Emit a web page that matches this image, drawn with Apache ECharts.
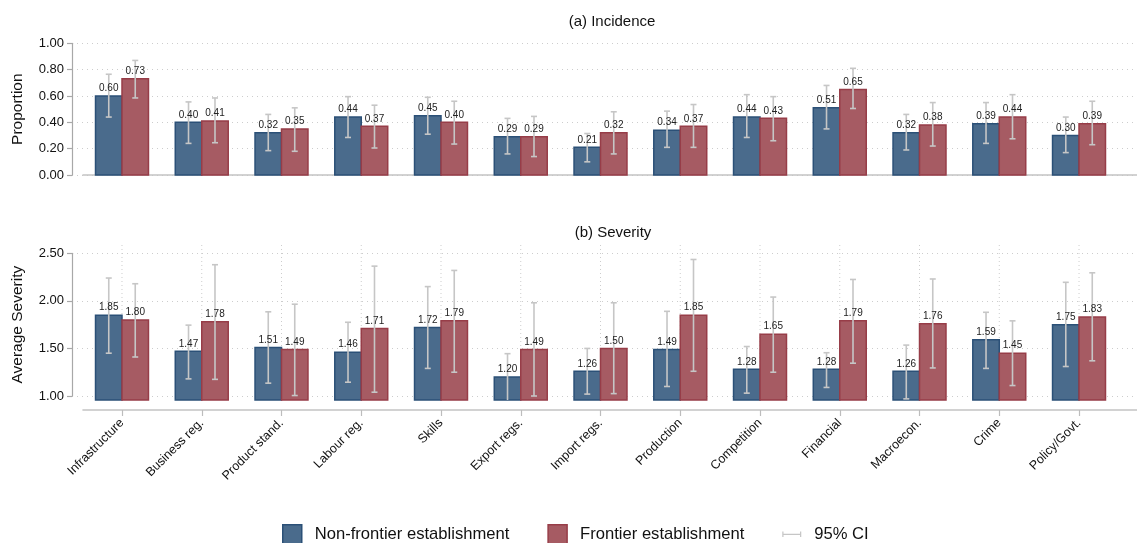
<!DOCTYPE html>
<html>
<head>
<meta charset="utf-8">
<title>Obstacles to operations: incidence and severity</title>
<script src="https://cdn.jsdelivr.net/npm/echarts@6/dist/echarts.min.js"></script>
<style>
  html, body { margin: 0; padding: 0; background: #ffffff; }
  #chart { width: 1137px; height: 543px; }
</style>
</head>
<body>
<div id="chart"></div>
<script>
// Obstacle categories (shared by both panels)
const categories = ['Infrastructure', 'Business reg.', 'Product stand.', 'Labour reg.', 'Skills',
  'Export regs.', 'Import regs.', 'Production', 'Competition', 'Financial', 'Macroecon.', 'Crime', 'Policy/Govt.'];

// (a) Incidence: share of establishments reporting the obstacle
const incidenceNonFrontier = [0.60, 0.40, 0.32, 0.44, 0.45, 0.29, 0.21, 0.34, 0.44, 0.51, 0.32, 0.39, 0.30];
const incidenceFrontier    = [0.73, 0.41, 0.35, 0.37, 0.40, 0.29, 0.32, 0.37, 0.43, 0.65, 0.38, 0.44, 0.39];
const incidenceNonFrontierLo = [0.44, 0.24, 0.185, 0.285, 0.31, 0.16, 0.10, 0.21, 0.285, 0.35, 0.19, 0.24, 0.17];
const incidenceNonFrontierHi = [0.765, 0.555, 0.46, 0.595, 0.59, 0.43, 0.315, 0.485, 0.61, 0.68, 0.46, 0.55, 0.44];
const incidenceFrontierLo    = [0.585, 0.245, 0.18, 0.205, 0.235, 0.14, 0.16, 0.21, 0.26, 0.505, 0.22, 0.275, 0.23];
const incidenceFrontierHi    = [0.87, 0.585, 0.51, 0.53, 0.56, 0.445, 0.48, 0.535, 0.595, 0.81, 0.55, 0.61, 0.56];

// (b) Severity: average severity score among those reporting
const severityNonFrontier = [1.85, 1.47, 1.51, 1.46, 1.72, 1.20, 1.26, 1.49, 1.28, 1.28, 1.26, 1.59, 1.75];
const severityFrontier    = [1.80, 1.78, 1.49, 1.71, 1.79, 1.49, 1.50, 1.85, 1.65, 1.79, 1.76, 1.45, 1.83];
const severityNonFrontierLo = [1.45, 1.18, 1.135, 1.145, 1.29, 0.95, 1.02, 1.10, 1.03, 1.09, 0.97, 1.29, 1.31];
const severityNonFrontierHi = [2.24, 1.745, 1.885, 1.775, 2.15, 1.445, 1.50, 1.89, 1.52, 1.455, 1.535, 1.88, 2.195];
const severityFrontierLo    = [1.41, 1.175, 1.005, 1.04, 1.25, 1.00, 1.025, 1.26, 1.25, 1.345, 1.295, 1.11, 1.37];
const severityFrontierHi    = [2.18, 2.38, 1.965, 2.365, 2.32, 1.98, 1.98, 2.435, 2.04, 2.225, 2.23, 1.79, 2.295];

// Axis tick labels
const incidenceTicks = [0, 0.2, 0.4, 0.6, 0.8, 1.0];
const severityTicks  = [1.0, 1.5, 2.0, 2.5];

const SERIES_NAMES = ['Non-frontier establishment', 'Frontier establishment', '95% CI'];

// ---- styling ----
const FONT = 'Liberation Sans, Arial, Helvetica, sans-serif';
const BLUE_FILL = '#4a6b8c', BLUE_LINE = '#2b5077';
const RED_FILL = '#a65b63', RED_LINE = '#973d48';
const CI_COLOR = '#c6c6c6';
const AXIS_GREY = '#a8a8a8';
const GRID_GREY = '#cdcdcd';
const BAR_FRACTION = 0.332;   // bar width as a share of the category spacing
const CAP_HALF = 3;

const chart = echarts.init(document.getElementById('chart'), null, { renderer: 'canvas' });

function clampY(y, rect) {
  return Math.min(Math.max(y, rect.y), rect.y + rect.height);
}

function barRenderer(side, fill, stroke) {
  return function (params, api) {
    const rect = params.coordSys;
    const i = api.value(0);
    const top = api.coord([i, api.value(1)]);
    const w = api.size([1, 0])[0] * BAR_FRACTION;
    const bottom = rect.y + rect.height;
    const x = side < 0 ? top[0] - w : top[0];
    return {
      type: 'rect',
      shape: { x: x, y: top[1], width: w, height: bottom - top[1] },
      style: { fill: fill, stroke: stroke, lineWidth: 1.5 }
    };
  };
}

function ciRenderer(params, api) {
  const rect = params.coordSys;
  const i = api.value(0);
  const w = api.size([1, 0])[0] * BAR_FRACTION;
  const children = [];
  [[-1, 1, 2], [1, 3, 4]].forEach(function (spec) {
    const lo = api.coord([i, api.value(spec[1])]);
    const hi = api.coord([i, api.value(spec[2])]);
    const cx = lo[0] + spec[0] * w / 2;
    const yLo = clampY(lo[1], rect), yHi = clampY(hi[1], rect);
    const style = { stroke: CI_COLOR, lineWidth: 1.6 };
    children.push({ type: 'line', shape: { x1: cx, y1: yLo, x2: cx, y2: yHi }, style: style });
    children.push({ type: 'line', shape: { x1: cx - CAP_HALF, y1: yHi, x2: cx + CAP_HALF, y2: yHi }, style: style });
    if (yLo === lo[1]) {
      children.push({ type: 'line', shape: { x1: cx - CAP_HALF, y1: yLo, x2: cx + CAP_HALF, y2: yLo }, style: style });
    }
  });
  return { type: 'group', children: children };
}

function labelRenderer(params, api) {
  const i = api.value(0);
  const w = api.size([1, 0])[0] * BAR_FRACTION;
  const children = [];
  [[-1, 1], [1, 2]].forEach(function (spec) {
    const v = api.value(spec[1]);
    const p = api.coord([i, v]);
    children.push({
      type: 'text',
      x: p[0] + spec[0] * w / 2,
      y: p[1] - 2.5,
      style: {
        text: v.toFixed(2), fill: '#222222', font: '10px ' + FONT,
        align: 'center', verticalAlign: 'bottom'
      }
    });
  });
  return { type: 'group', children: children };
}

function vGridRenderer(params, api) {
  const rect = params.coordSys;
  const x = api.coord([api.value(0), 0])[0];
  return {
    type: 'line',
    shape: { x1: x, y1: rect.y, x2: x, y2: rect.y + rect.height },
    style: { stroke: GRID_GREY, lineWidth: 1, lineDash: [1, 3] }
  };
}

function panelSeries(axisIndex, nf, fr, nfLo, nfHi, frLo, frHi, withVGrid) {
  const idx = categories.map(function (_, i) { return i; });
  const list = [];
  if (withVGrid) {
    list.push({
      type: 'custom', xAxisIndex: axisIndex, yAxisIndex: axisIndex, silent: true, z: 1,
      renderItem: vGridRenderer,
      data: idx.map(function (i) { return [i]; })
    });
  }
  list.push({
    name: SERIES_NAMES[0], type: 'custom', xAxisIndex: axisIndex, yAxisIndex: axisIndex, z: 2,
    itemStyle: { color: BLUE_FILL, borderColor: BLUE_LINE, borderWidth: 1.5 },
    renderItem: barRenderer(-1, BLUE_FILL, BLUE_LINE),
    data: idx.map(function (i) { return [i, nf[i]]; })
  });
  list.push({
    name: SERIES_NAMES[1], type: 'custom', xAxisIndex: axisIndex, yAxisIndex: axisIndex, z: 2,
    itemStyle: { color: RED_FILL, borderColor: RED_LINE, borderWidth: 1.5 },
    renderItem: barRenderer(1, RED_FILL, RED_LINE),
    data: idx.map(function (i) { return [i, fr[i]]; })
  });
  list.push({
    name: SERIES_NAMES[2], type: 'custom', xAxisIndex: axisIndex, yAxisIndex: axisIndex, z: 3,
    itemStyle: { color: CI_COLOR },
    renderItem: ciRenderer,
    data: idx.map(function (i) { return [i, nfLo[i], nfHi[i], frLo[i], frHi[i]]; })
  });
  list.push({
    type: 'custom', xAxisIndex: axisIndex, yAxisIndex: axisIndex, silent: true, z: 4,
    renderItem: labelRenderer,
    data: idx.map(function (i) { return [i, nf[i], fr[i]]; })
  });
  return list;
}

// category positions on the plotting axes: index 0 sits 39px right of the plot's left edge
const CAT_MIN = -0.489, CAT_MAX = 12.727;

function valueAxisFrame(gridIndex, min, max, interval, name) {
  return {
    type: 'value', gridIndex: gridIndex, min: min, max: max, interval: interval,
    name: name, nameLocation: 'middle', nameGap: 46,
    nameTextStyle: { fontFamily: FONT, fontSize: 15.5, color: '#111111' },
    axisLine: { show: true, lineStyle: { color: AXIS_GREY, width: 1.2 } },
    axisTick: { show: true, length: 5, lineStyle: { color: AXIS_GREY, width: 1.2 } },
    axisLabel: {
      margin: 8, fontFamily: FONT, fontSize: 13, color: '#111111',
      formatter: function (v) { return v.toFixed(2); }
    },
    splitLine: { show: true, lineStyle: { color: GRID_GREY, width: 1, type: [1, 4] } }
  };
}

function hiddenValueAxis(gridIndex, min, max) {
  return { type: 'value', gridIndex: gridIndex, min: min, max: max, show: false, splitLine: { show: false } };
}

const option = {
  animation: false,
  backgroundColor: '#ffffff',
  textStyle: { fontFamily: FONT },
  title: [
    { text: '(a) Incidence', left: 612, top: 14, textAlign: 'center', padding: 0,
      textStyle: { fontFamily: FONT, fontSize: 15, fontWeight: 'normal', color: '#111111' } },
    { text: '(b) Severity', left: 613, top: 225, textAlign: 'center', padding: 0,
      textStyle: { fontFamily: FONT, fontSize: 15, fontWeight: 'normal', color: '#111111' } }
  ],
  legend: {
    left: 282, top: 524, padding: 0, itemWidth: 19, itemHeight: 19, itemGap: 38,
    textStyle: { fontFamily: FONT, fontSize: 16.6, color: '#111111', padding: [0, 0, 0, 8] },
    data: [
      { name: SERIES_NAMES[0], icon: 'rect', itemStyle: { color: BLUE_FILL, borderColor: BLUE_LINE, borderWidth: 1.5 } },
      { name: SERIES_NAMES[1], icon: 'rect', itemStyle: { color: RED_FILL, borderColor: RED_LINE, borderWidth: 1.5 } },
      { name: SERIES_NAMES[2], icon: 'path://M0,0h1.3v6h-1.3z M0,2.4h20v1.3h-20z M18.7,0h1.3v6h-1.3z',
        itemStyle: { color: CI_COLOR, borderWidth: 0 } }
    ]
  },
  grid: [
    { left: 72, right: 2, top: 43.3, height: 131.7 },   // (a) frame
    { left: 83, right: 0, top: 43.3, height: 131.7 },   // (a) bars
    { left: 72, right: 2, top: 253.3, height: 142.7 },  // (b) frame
    { left: 83, right: 0, top: 245, height: 155 }       // (b) bars
  ],
  xAxis: [
    { type: 'value', gridIndex: 0, min: 0, max: 1, show: false },
    { type: 'value', gridIndex: 1, min: CAT_MIN, max: CAT_MAX, position: 'bottom', offset: 9.5,
      axisLine: { show: true, lineStyle: { color: '#c4c4c4', width: 1.6 } },
      axisTick: { show: false }, axisLabel: { show: false }, splitLine: { show: false } },
    { type: 'value', gridIndex: 2, min: 0, max: 1, show: false },
    { type: 'value', gridIndex: 3, min: CAT_MIN, max: CAT_MAX, position: 'bottom', offset: 10,
      axisLine: { show: true, lineStyle: { color: '#c4c4c4', width: 1.6 } },
      axisTick: { show: true, length: 6, customValues: categories.map(function (_, i) { return i; }),
        lineStyle: { color: '#bdbdbd', width: 1.2 } },
      axisLabel: { show: true, rotate: 45, margin: 11, fontFamily: FONT, fontSize: 12.5, color: '#111111',
        customValues: categories.map(function (_, i) { return i; }),
        formatter: function (v) { return categories[Math.round(v)]; } },
      splitLine: { show: false } }
  ],
  yAxis: [
    valueAxisFrame(0, incidenceTicks[0], incidenceTicks[incidenceTicks.length - 1], 0.2, 'Proportion'),
    hiddenValueAxis(1, 0, 1),
    valueAxisFrame(2, severityTicks[0], severityTicks[severityTicks.length - 1], 0.5, 'Average Severity'),
    hiddenValueAxis(3, 1 - 4 / (142.7 / 1.5), 2.5 + 8.3 / (142.7 / 1.5))
  ],
  series: [].concat(
    panelSeries(1, incidenceNonFrontier, incidenceFrontier,
      incidenceNonFrontierLo, incidenceNonFrontierHi, incidenceFrontierLo, incidenceFrontierHi, false),
    panelSeries(3, severityNonFrontier, severityFrontier,
      severityNonFrontierLo, severityNonFrontierHi, severityFrontierLo, severityFrontierHi, true)
  )
};

chart.setOption(option);
</script>
</body>
</html>
